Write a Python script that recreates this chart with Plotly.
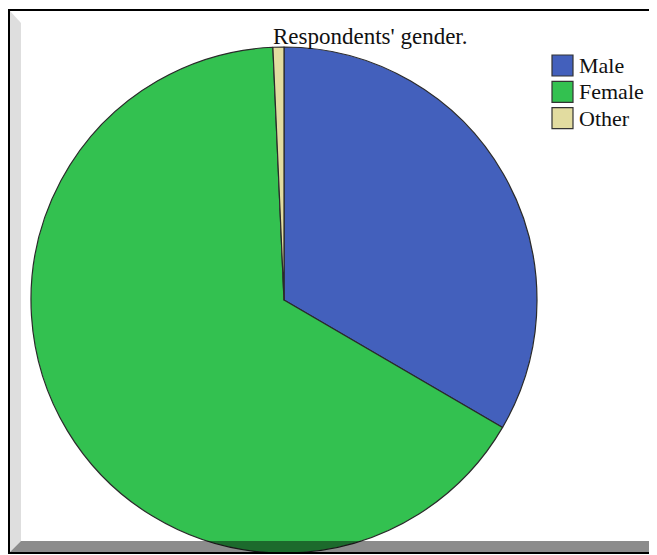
import plotly.graph_objects as go

# Data
labels = ["Male", "Female", "Other"]
values = [33.4, 65.9, 0.7]
colors = ["#4360BC", "#33C150", "#E2DCA0"]
title_text = "Respondents' gender."

# page has an 8px body margin; figure sized so the page fits 657x555
OFF = 8
W, H = 657 - OFF, 555 - OFF

def px(x):
    return (x - OFF) / W

def py(y):
    return 1 - (y - OFF) / H

cx, cy, r = 284, 300, 253

fig = go.Figure(go.Pie(
    labels=labels,
    values=values,
    marker=dict(colors=colors, line=dict(color="#2a2a2a", width=1.2)),
    sort=False,
    direction="clockwise",
    rotation=0,
    textinfo="none",
    showlegend=False,
    domain=dict(x=[px(cx - r), px(cx + r)], y=[py(cy + r), py(cy - r)]),
))

shapes = []
# outer black frame
shapes.append(dict(type="rect", xref="paper", yref="paper",
                   x0=px(9), x1=px(662), y0=py(553), y1=py(10),
                   line=dict(color="black", width=2), fillcolor="rgba(0,0,0,0)",
                   layer="below"))
# left bevel (light)
shapes.append(dict(type="path", xref="paper", yref="paper",
                   path=f"M {px(10)},{py(11)} L {px(21)},{py(23)} L {px(21)},{py(541)} L {px(10)},{py(552)} Z",
                   fillcolor="#DEDEDE", line=dict(width=0), layer="above"))
# bottom bevel (dark, translucent)
shapes.append(dict(type="path", xref="paper", yref="paper",
                   path=f"M {px(10)},{py(552)} L {px(21)},{py(541)} L {px(652)},{py(541)} L {px(657)},{py(536)} L {px(657)},{py(552)} Z",
                   fillcolor="rgba(0,0,0,0.45)", line=dict(width=0), layer="above"))
# right bevel (dark)
shapes.append(dict(type="path", xref="paper", yref="paper",
                   path=f"M {px(652)},{py(541)} L {px(652)},{py(22)} L {px(657)},{py(17)} L {px(657)},{py(536)} Z",
                   fillcolor="rgba(0,0,0,0.42)", line=dict(width=0), layer="above"))
# bottom black line
shapes.append(dict(type="line", xref="paper", yref="paper",
                   x0=px(8), x1=px(657), y0=py(553), y1=py(553),
                   line=dict(color="black", width=2), layer="above"))

annotations = [dict(text=title_text, xref="paper", yref="paper",
                    x=px(370), y=py(37), xanchor="center", yanchor="middle",
                    showarrow=False,
                    font=dict(family="Liberation Serif", size=23, color="#111"))]

# custom legend
for i, (lab, col) in enumerate(zip(labels, colors)):
    top = 55 + i * 26.3
    shapes.append(dict(type="rect", xref="paper", yref="paper",
                       x0=px(552), x1=px(573), y0=py(top + 21), y1=py(top),
                       fillcolor=col, line=dict(color="#333", width=1.2)))
    annotations.append(dict(text=lab, xref="paper", yref="paper",
                            x=px(577), y=py(top + 10.5), xanchor="left", yanchor="middle",
                            showarrow=False,
                            font=dict(family="Liberation Serif", size=22, color="#111")))

fig.update_layout(
    width=W, height=H,
    margin=dict(l=0, r=0, t=0, b=0),
    paper_bgcolor="white",
    plot_bgcolor="white",
    shapes=shapes,
    annotations=annotations,
)

fig.write_html("out.html")
